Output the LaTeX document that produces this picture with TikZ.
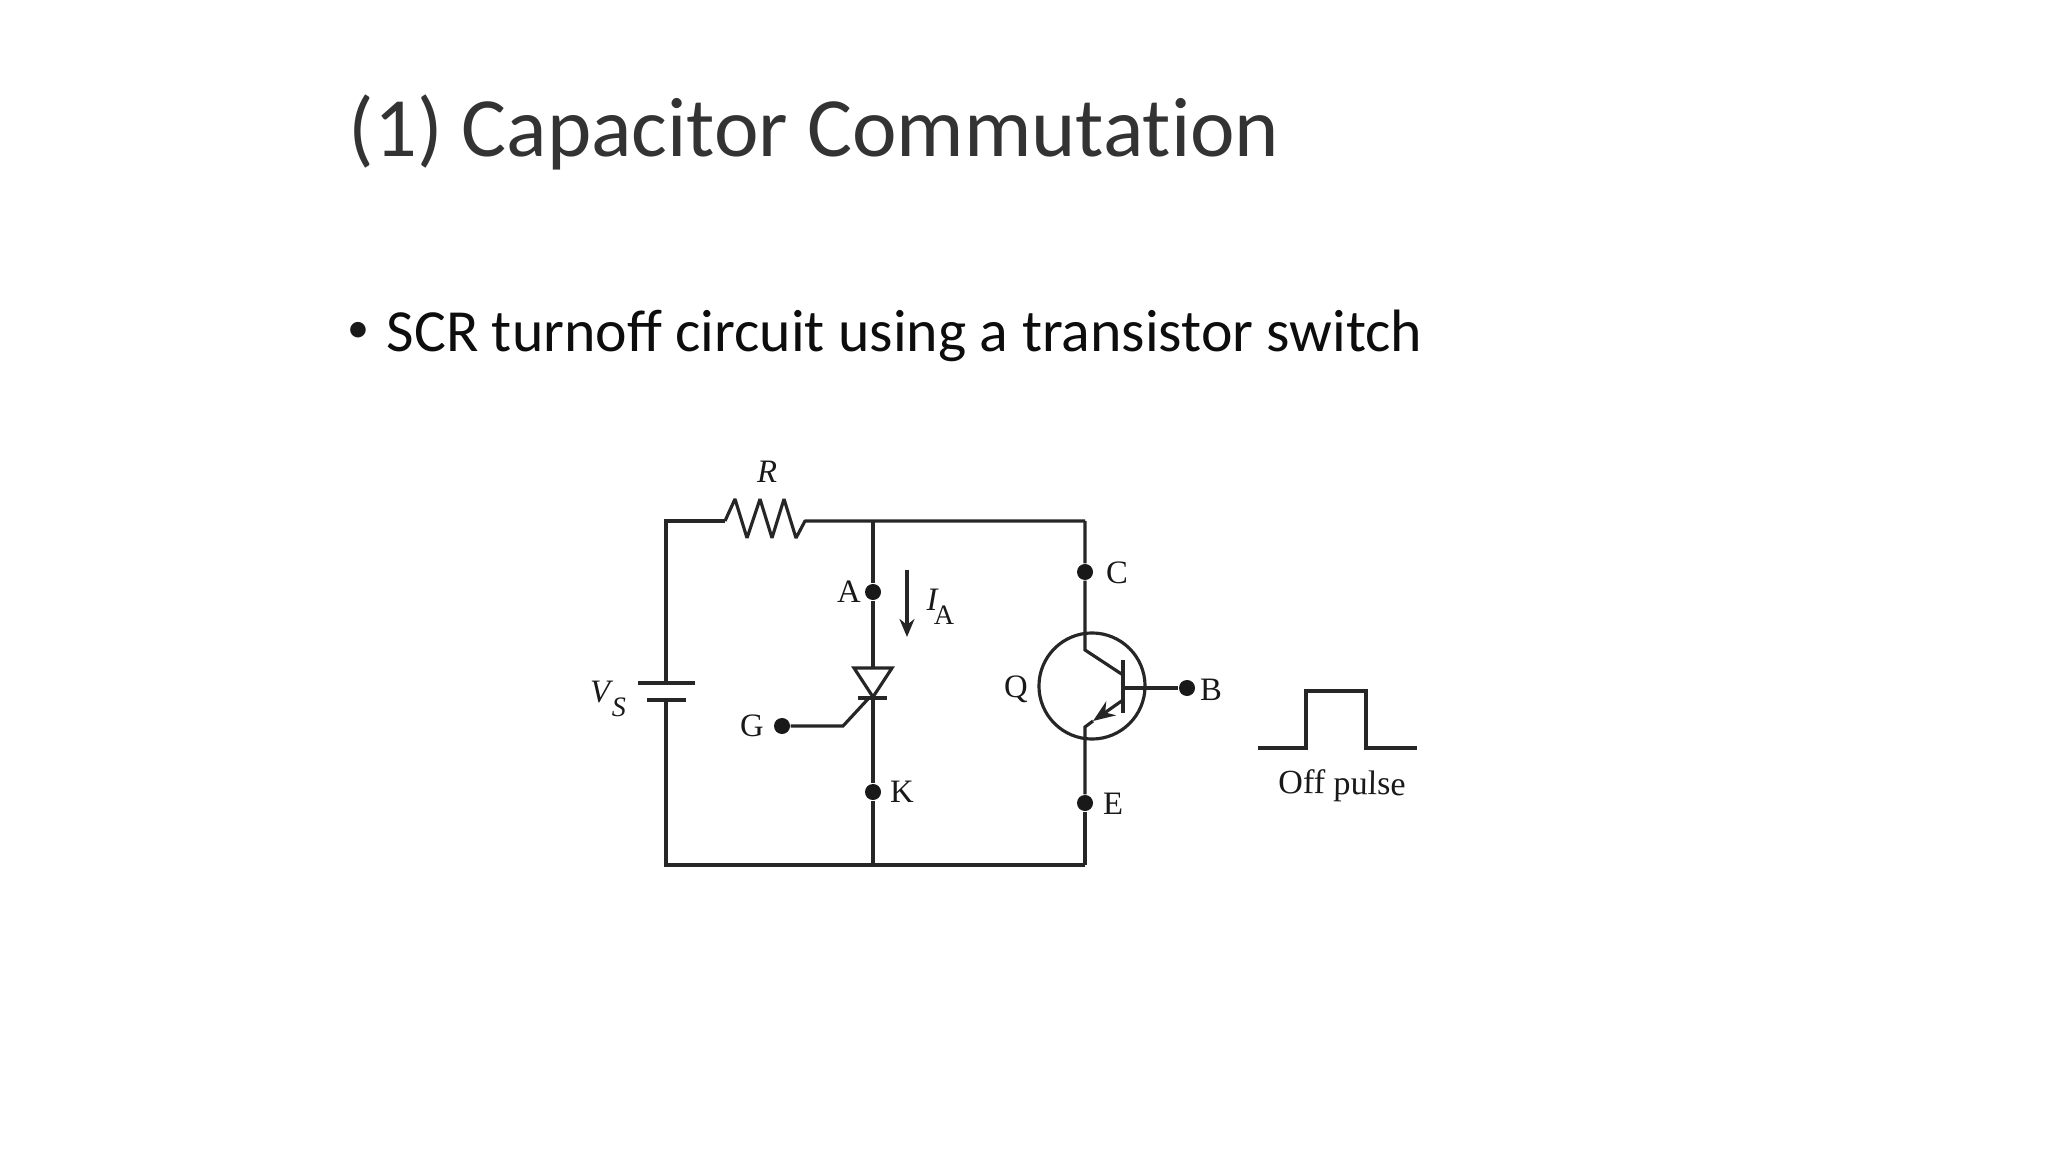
\documentclass[tikz,border=0pt]{standalone}
\usepackage{fontspec}
\setmainfont{Carlito}
\newfontfamily\titlefont[Ligatures=NoCommon]{Carlito}
\newfontfamily\figfont{Liberation Serif}
\usetikzlibrary{arrows.meta}

\tikzset{
    wire/.style={line width=0.9pt, draw=black!85},
    termdot/.style={circle, fill=black!90, inner sep=0pt, minimum size=0.16cm},
    figlabel/.style={inner sep=0pt, text=black!90, font=\figfont\fontsize{9.3}{10}\selectfont}
}

\begin{document}
\begin{tikzpicture}[x=0.01cm, y=-0.01cm]
            \useasboundingbox (0, 0) rectangle (2048, 1152);
            %slide text
            \node[anchor=base west, inner sep=0pt, text=black!80, font=\titlefont\fontsize{24}{28}\selectfont] (title) at (348, 157) {(1) Capacitor Commutation};
            \node[inner sep=0pt, text=black!90, font=\fontsize{12.5}{13}\selectfont] (bullet) at (358, 332) {\textbullet};
            \node[anchor=base west, inner sep=0pt, text=black!95, font=\fontsize{17}{20}\selectfont] (heading) at (386, 352) {SCR turnoff circuit using a transistor switch};
            %corners of the loop
            \coordinate (tl) at (666, 521);
            \coordinate (bl) at (666, 865);
            \coordinate (tm) at (873, 521);
            \coordinate (bm) at (873, 865);
            \coordinate (tr) at (1085, 521);
            \coordinate (br) at (1085, 865);
            %battery
            \coordinate (platelong) at (666, 683);
            \coordinate (plateshort) at (666, 700);
            \draw[wire] (plateshort) -- (bl) -- (bm) -- (br);
            \draw[wire] (platelong) -- (tl) -- (725, 521);
            \draw[wire] (638, 683) -- (695, 683);
            \draw[wire] (647, 700) -- (686, 700);
            %resistor
            \draw[wire, line join=bevel] (725, 521) -- (735, 499) -- (747, 538) -- (760, 499) -- (772, 538) -- (784, 499) -- (796, 538) -- (805, 521) -- (tm) -- (tr);
            %SCR
            \node[termdot] (A) at (873, 592) {};
            \node[termdot] (K) at (873, 792) {};
            \node[termdot] (G) at (782, 726) {};
            \coordinate (scrtop) at (873, 668);
            \coordinate (scrtip) at (873, 697);
            \draw[wire] (tm) -- (A) -- (scrtop);
            \draw[wire] (scrtip) -- (K) -- (bm);
            \draw[wire] (854, 668) -- (892, 668) -- (scrtip) -- cycle;
            \draw[wire] (858, 698) -- (887, 698);
            \draw[wire] (G) -- (843, 726) -- (868, 699);
            \coordinate (iatop) at (907, 570);
            \coordinate (iabot) at (907, 637);
            \draw[wire, -{Stealth[length=1.8mm, width=1.5mm]}] (iatop) -- (iabot);
            %transistor
            \node[draw=black!85, line width=0.9pt, circle, inner sep=0pt, minimum size=1.06cm] (Q) at (1092, 686) {};
            \node[termdot] (C) at (1085, 572) {};
            \node[termdot] (E) at (1085, 803) {};
            \node[termdot] (B) at (1187, 688) {};
            \draw[wire] (tr) -- (C) -- (1085, 650) -- (1123, 675);
            \draw[wire, {Stealth[length=2.2mm, width=1.7mm]}-] (1093, 721) -- (1123, 700);
            \draw[wire] (E) -- (1085, 727) -- (1093, 721);
            \draw[wire] (E) -- (br);
            \draw[line width=1.2pt, draw=black!85] (1123, 660) -- (1123, 713);
            \draw[wire] (1123, 688) -- (B);
            %off pulse
            \coordinate (pstart) at (1258, 748);
            \coordinate (pend) at (1417, 748);
            \draw[wire] (pstart) -- (1306, 748) -- (1306, 691) -- (1366, 691) -- (1366, 748) -- (pend);
            %labels
            \node[figlabel] (Rlab) at (767, 472) {\itshape R};
            \node[figlabel] (Alab) at (849, 592) {A};
            \node[figlabel] (Klab) at (902, 792) {K};
            \node[figlabel] (Glab) at (752, 726) {G};
            \node[figlabel] (Clab) at (1117, 573) {C};
            \node[figlabel] (Elab) at (1113, 804) {E};
            \node[figlabel] (Blab) at (1211, 690) {B};
            \node[figlabel] (Qlab) at (1016, 689) {Q};
            \node[figlabel] (Ilab) at (932, 600) {\itshape I};
            \node[figlabel, font=\figfont\fontsize{8}{9}\selectfont] (Iasub) at (944, 615) {A};
            \node[figlabel] (Vlab) at (600, 692) {\itshape V};
            \node[figlabel, font=\figfont\itshape\fontsize{8}{9}\selectfont] (Vsub) at (619, 707) {S};
            \node[figlabel, rotate=-1, font=\figfont\fontsize{9.7}{11}\selectfont] (pulselab) at (1342, 786) {Off pulse};
        \end{tikzpicture}
\end{document}
